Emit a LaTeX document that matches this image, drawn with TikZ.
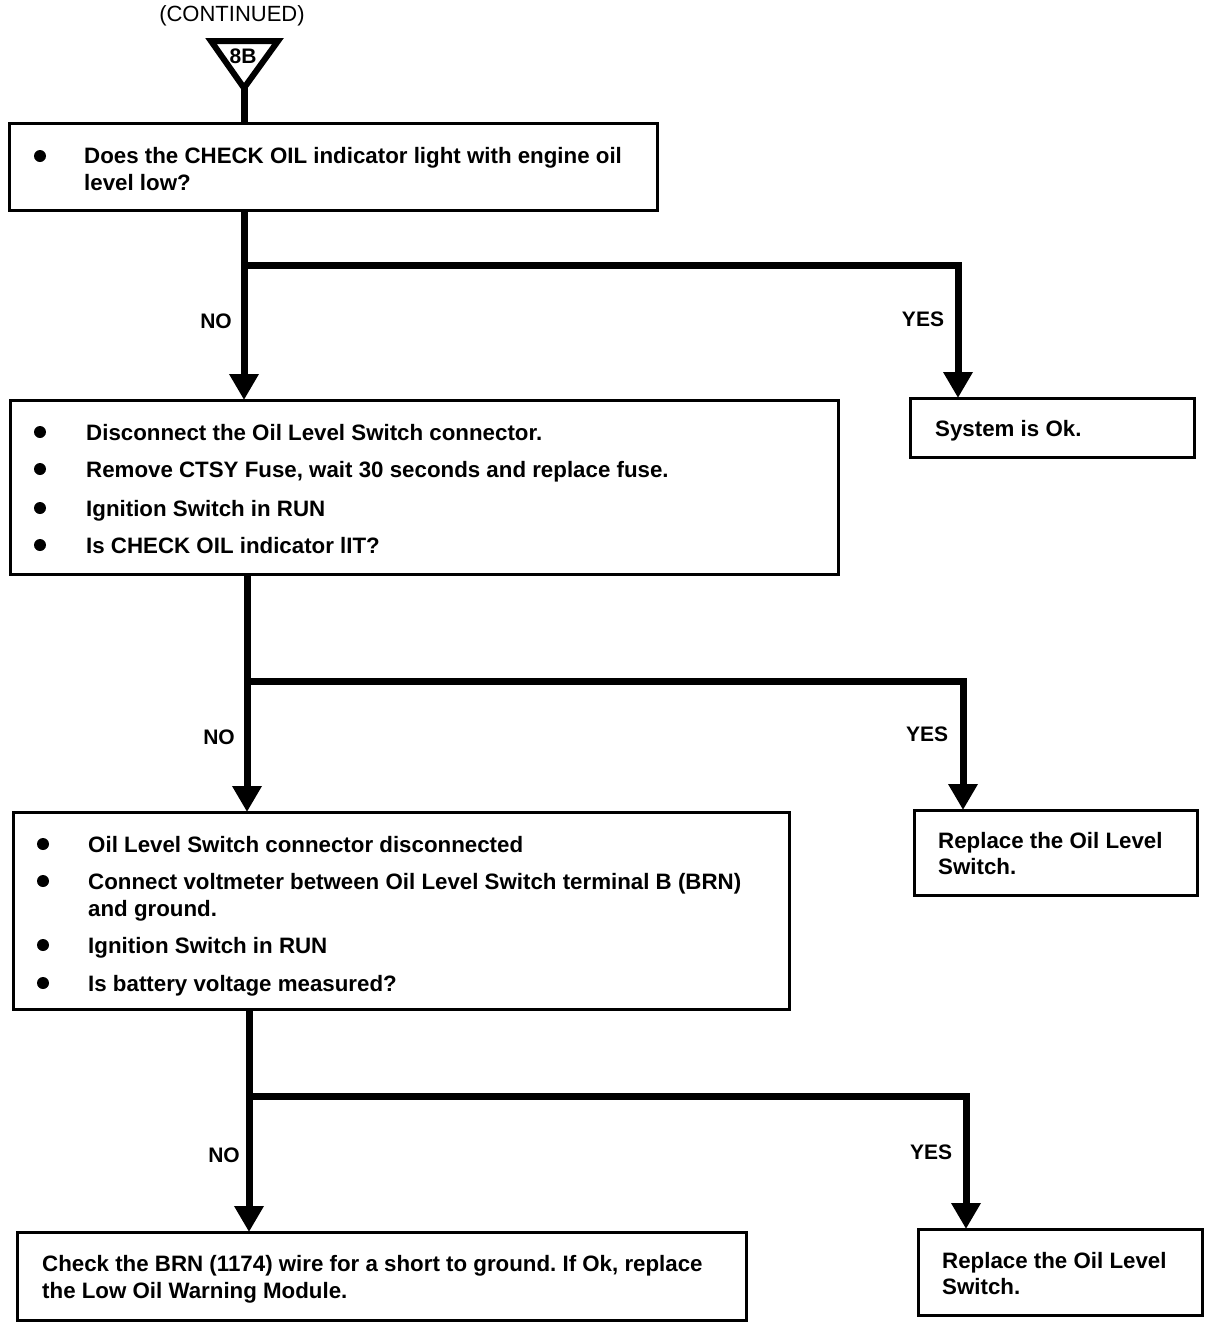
\documentclass[tikz,border=0pt]{standalone}
\usepackage{fontspec}
\setmainfont{Liberation Sans}
\frenchspacing
\usetikzlibrary{arrows.meta}
\tikzset{
  box/.style={draw, line width=3pt, anchor=north west, inner sep=0pt, outer sep=0pt},
  flow/.style={line width=7pt},
  arr/.style={line width=7pt, line join=miter, -{Triangle[width=28pt,length=26pt]}},
  txt/.style={anchor=base west, inner sep=0pt, font=\fontsize{22.3}{27}\selectfont\bfseries},
  lab/.style={inner sep=0pt, font=\fontsize{21}{25}\selectfont\bfseries},
  bul/.style={circle, fill=black, inner sep=0pt, minimum size=12pt},
}
\begin{document}
\begin{tikzpicture}[x=1pt,y=-1pt]
\useasboundingbox (0,0) rectangle (1216,1328);
% header
\node[inner sep=0pt, font=\fontsize{22}{26}\selectfont] (cont) at (232,16) {(CONTINUED)};
\coordinate (ta) at (211,41);
\coordinate (tb) at (278,41);
\coordinate (tc) at (244,88);
\draw[line width=6pt, line join=miter] (ta) -- (tb) -- (tc) -- cycle;
\node[inner sep=0pt, font=\fontsize{21}{24}\selectfont\bfseries] (lbl8b) at (243,56) {8B};
% boxes
\node[box, minimum width=648pt, minimum height=87pt] (b1) at (9,123) {};
\node[box, minimum width=828pt, minimum height=174pt] (b2) at (10,400) {};
\node[box, minimum width=284pt, minimum height=59pt] (sys) at (910,398) {};
\node[box, minimum width=776pt, minimum height=197pt] (b3) at (13,812) {};
\node[box, minimum width=283pt, minimum height=85pt] (r1) at (914,810) {};
\node[box, minimum width=729pt, minimum height=88pt] (b4) at (17,1232) {};
\node[box, minimum width=284pt, minimum height=86pt] (r2) at (918,1229) {};
% stem
\draw[flow] (tc) -- (tc |- b1.north);
% connectors
\coordinate (t1) at (244,265);
\coordinate (y1) at (958,265);
\draw[arr] (b1.south -| t1) -- (b2.north -| t1);
\draw[arr] (t1) -- (y1) -- (y1 |- sys.north);
\coordinate (t2) at (247,681);
\coordinate (y2) at (963,681);
\draw[arr] (b2.south -| t2) -- (b3.north -| t2);
\draw[arr] (t2) -- (y2) -- (y2 |- r1.north);
\coordinate (t3) at (249,1096);
\coordinate (y3) at (966,1096);
\draw[arr] (b3.south -| t3) -- (b4.north -| t3);
\draw[arr] (t3) -- (y3) -- (y3 |- r2.north);
% labels
\node[lab] (no1) at (216,321) {NO};
\node[lab] (yes1) at (923,319) {YES};
\node[lab] (no2) at (219,737) {NO};
\node[lab] (yes2) at (927,734) {YES};
\node[lab] (no3) at (224,1155) {NO};
\node[lab] (yes3) at (931,1152) {YES};
% box 1
\node[bul] (p11) at (40,156) {};
\node[txt] (l11) at (84,163) {Does the CHECK OIL indicator light with engine oil};
\node[txt] (l12) at (84,190) {level low?};
% box 2
\node[bul] (p21) at (40,432) {};
\node[bul] (p22) at (40,469) {};
\node[bul] (p23) at (40,508) {};
\node[bul] (p24) at (40,545) {};
\node[txt] (l21) at (86,440) {Disconnect the Oil Level Switch connector.};
\node[txt] (l22) at (86,477) {Remove CTSY Fuse, wait 30 seconds and replace fuse.};
\node[txt] (l23) at (86,516) {Ignition Switch in RUN};
\node[txt] (l24) at (86,553) {Is CHECK OIL indicator lIT?};
% system ok
\node[txt] (s1) at (935,436) {System is Ok.};
% box 3
\node[bul] (p31) at (43,844) {};
\node[bul] (p32) at (43,881) {};
\node[bul] (p33) at (43,945) {};
\node[bul] (p34) at (43,983) {};
\node[txt] (l31) at (88,852) {Oil Level Switch connector disconnected};
\node[txt] (l32) at (88,889) {Connect voltmeter between Oil Level Switch terminal B (BRN)};
\node[txt] (l33) at (88,916) {and ground.};
\node[txt] (l34) at (88,953) {Ignition Switch in RUN};
\node[txt] (l35) at (88,991) {Is battery voltage measured?};
% replace 1
\node[txt] (r11) at (938,848) {Replace the Oil Level};
\node[txt] (r12) at (938,874) {Switch.};
% box 4
\node[txt] (l41) at (42,1271) {Check the BRN (1174) wire for a short to ground. If Ok, replace};
\node[txt] (l42) at (42,1298) {the Low Oil Warning Module.};
% replace 2
\node[txt] (r21) at (942,1268) {Replace the Oil Level};
\node[txt] (r22) at (942,1294) {Switch.};
\end{tikzpicture}
\end{document}
